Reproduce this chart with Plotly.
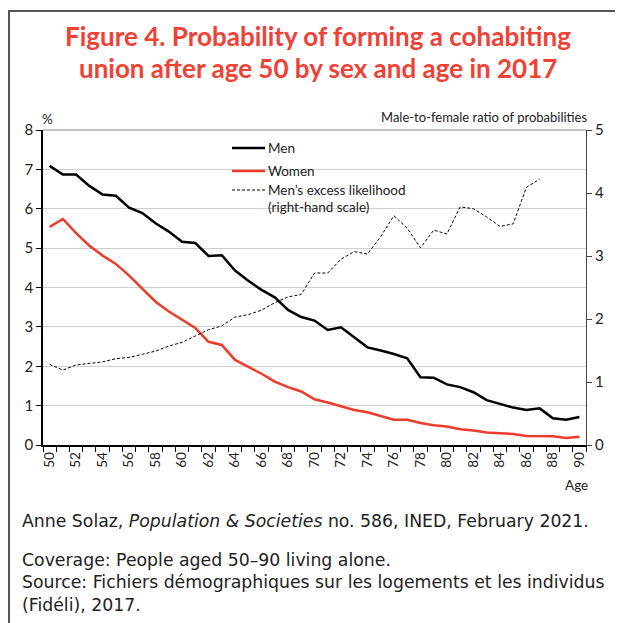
import plotly.graph_objects as go

ages = list(range(50, 91))
men = [7.09, 6.87, 6.87, 6.58, 6.36, 6.33, 6.03, 5.89, 5.63, 5.42,
       5.16, 5.13, 4.80, 4.82, 4.43, 4.17, 3.94, 3.75, 3.43, 3.25,
       3.16, 2.92, 2.99, 2.74, 2.48, 2.40, 2.31, 2.20, 1.72, 1.71,
       1.54, 1.47, 1.34, 1.14, 1.05, 0.95, 0.89, 0.93, 0.68, 0.64, 0.71]
women = [5.54, 5.74, 5.38, 5.06, 4.81, 4.60, 4.30, 3.98, 3.64, 3.39,
         3.18, 2.97, 2.62, 2.54, 2.16, 1.99, 1.81, 1.61, 1.47, 1.36,
         1.16, 1.08, 0.99, 0.89, 0.83, 0.74, 0.64, 0.64, 0.56, 0.50,
         0.47, 0.40, 0.37, 0.32, 0.30, 0.28, 0.23, 0.23, 0.22, 0.18, 0.21]
ratio_ages = list(range(50, 88))
ratio = [1.28, 1.19, 1.27, 1.30, 1.32, 1.37, 1.39, 1.44, 1.49, 1.57,
         1.63, 1.73, 1.83, 1.89, 2.03, 2.07, 2.14, 2.26, 2.35, 2.39,
         2.73, 2.73, 2.95, 3.07, 3.03, 3.31, 3.64, 3.44, 3.13, 3.41,
         3.35, 3.78, 3.75, 3.62, 3.47, 3.51, 4.09, 4.22]

x_ticks = list(range(50, 91, 2))
left_ticks = list(range(0, 9))
right_ticks = list(range(0, 6))

# page has an 8px body margin: figure pixel = page pixel - 8
OFF = 8
W, H = 615, 615
ML, MR, MT, MB = 35, 37, 122, 178
PW, PH = W - ML - MR, H - MT - MB


def px(x):
    return (x - OFF - ML) / PW


def py(y):
    return 1 - (y - OFF - MT) / PH


RED = "#EE3B2B"
TITLE_RED = "#EF4136"
FONT = "Lato, 'Open Sans', sans-serif"
BODY_FONT = "'DejaVu Sans', 'Open Sans', sans-serif"
TITLE_FONT = "Lato, Roboto, sans-serif"

fig = go.Figure()
fig.add_trace(go.Scatter(x=ages, y=men, mode="lines", name="Men",
                         line=dict(color="black", width=2.5), yaxis="y"))
fig.add_trace(go.Scatter(x=ages, y=women, mode="lines", name="Women",
                         line=dict(color=RED, width=2.5), yaxis="y"))
fig.add_trace(go.Scatter(x=ratio_ages, y=ratio, mode="lines",
                         name="Men’s excess likelihood (right-hand scale)",
                         line=dict(color="black", width=1, dash="3px,2px"),
                         yaxis="y2"))

fig.update_layout(
    width=W, height=H,
    margin=dict(l=ML, r=MR, t=MT, b=MB, pad=0),
    paper_bgcolor="white", plot_bgcolor="white",
    showlegend=False,
    font=dict(family=FONT, size=14, color="#222"),
    xaxis=dict(range=[49.5, 90.5], tickmode="array", tickvals=x_ticks,
               ticktext=[str(v) for v in x_ticks], tickangle=-90,
               ticks="", showgrid=False, showline=True, linecolor="black",
               linewidth=1.5, zeroline=False, tickfont=dict(size=13.5),
               minor=dict(tickmode="linear", tick0=49.5, dtick=1,
                          ticks="outside", ticklen=5, tickcolor="black",
                          tickwidth=1, showgrid=False)),
    yaxis=dict(range=[0, 8], tickmode="array", tickvals=left_ticks,
               ticks="outside", ticklen=5, tickcolor="black",
               showline=True, linecolor="black", linewidth=1.5,
               showgrid=True, gridcolor="#cfcfcf", gridwidth=1.2,
               zeroline=False, tickfont=dict(size=15)),
    yaxis2=dict(range=[0, 5], overlaying="y", side="right",
                tickmode="array", tickvals=right_ticks,
                ticks="outside", ticklen=5, tickcolor="#444",
                showline=True, linecolor="#444", linewidth=1.2,
                showgrid=False, zeroline=False, tickfont=dict(size=15)),
)

shapes = [
    # plot top border
    dict(type="line", xref="paper", yref="paper", x0=0, x1=1, y0=1, y1=1,
         line=dict(color="#8a8a8a", width=1.2)),
    # outer frame (top and left)
    dict(type="line", xref="paper", yref="paper", x0=px(8), x1=px(640),
         y0=py(11), y1=py(11), line=dict(color="#555", width=2)),
    dict(type="line", xref="paper", yref="paper", x0=px(9), x1=px(9),
         y0=py(11), y1=py(640), line=dict(color="#555", width=2)),
    # legend keys
    dict(type="line", xref="paper", yref="paper", x0=px(232), x1=px(265),
         y0=py(148), y1=py(148), line=dict(color="black", width=2.5)),
    dict(type="line", xref="paper", yref="paper", x0=px(232), x1=px(265),
         y0=py(171), y1=py(171), line=dict(color=RED, width=2.5)),
    dict(type="line", xref="paper", yref="paper", x0=px(232), x1=px(265),
         y0=py(190), y1=py(190), line=dict(color="black", width=1, dash="3px,2px")),
]
fig.update_layout(shapes=shapes)

ann = []


def text(x, y, s, size=14, xanchor="left", color="#222", family=FONT, **kw):
    ann.append(dict(x=px(x), y=py(y), xref="paper", yref="paper", text=s,
                    showarrow=False, xanchor=xanchor, yanchor="middle",
                    font=dict(size=size, color=color, family=family), **kw))


text(317.5, 36, "<b>Figure 4. Probability of forming a cohabiting</b>", size=26,
     xanchor="center", color=TITLE_RED, family=TITLE_FONT)
text(317.5, 68, "<b>union after age 50 by sex and age in 2017</b>", size=26,
     xanchor="center", color=TITLE_RED, family=TITLE_FONT)
text(40, 119, "%", size=13.5)
text(589, 117, "Male-to-female ratio of probabilities", size=13, xanchor="right")
text(266, 148, "Men", size=13.5)
text(266, 171, "Women", size=13.5)
text(266, 190, "Men’s excess likelihood", size=13.5)
text(266, 207, "(right-hand scale)", size=13.5)
text(590, 485, "Age", size=13.5, xanchor="right")
text(20, 521, "Anne Solaz, <i>Population &amp; Societies</i> no. 586, INED, February 2021.",
     size=17.3, family=BODY_FONT)
text(20, 582, "Coverage: People aged 50–90 living alone.<br>"
     "Source: Fichiers démographiques sur les logements et les individus<br>"
     "(Fidéli), 2017.", size=17.3, family=BODY_FONT, align="left")
fig.update_layout(annotations=ann)

fig.write_html("out.html")
